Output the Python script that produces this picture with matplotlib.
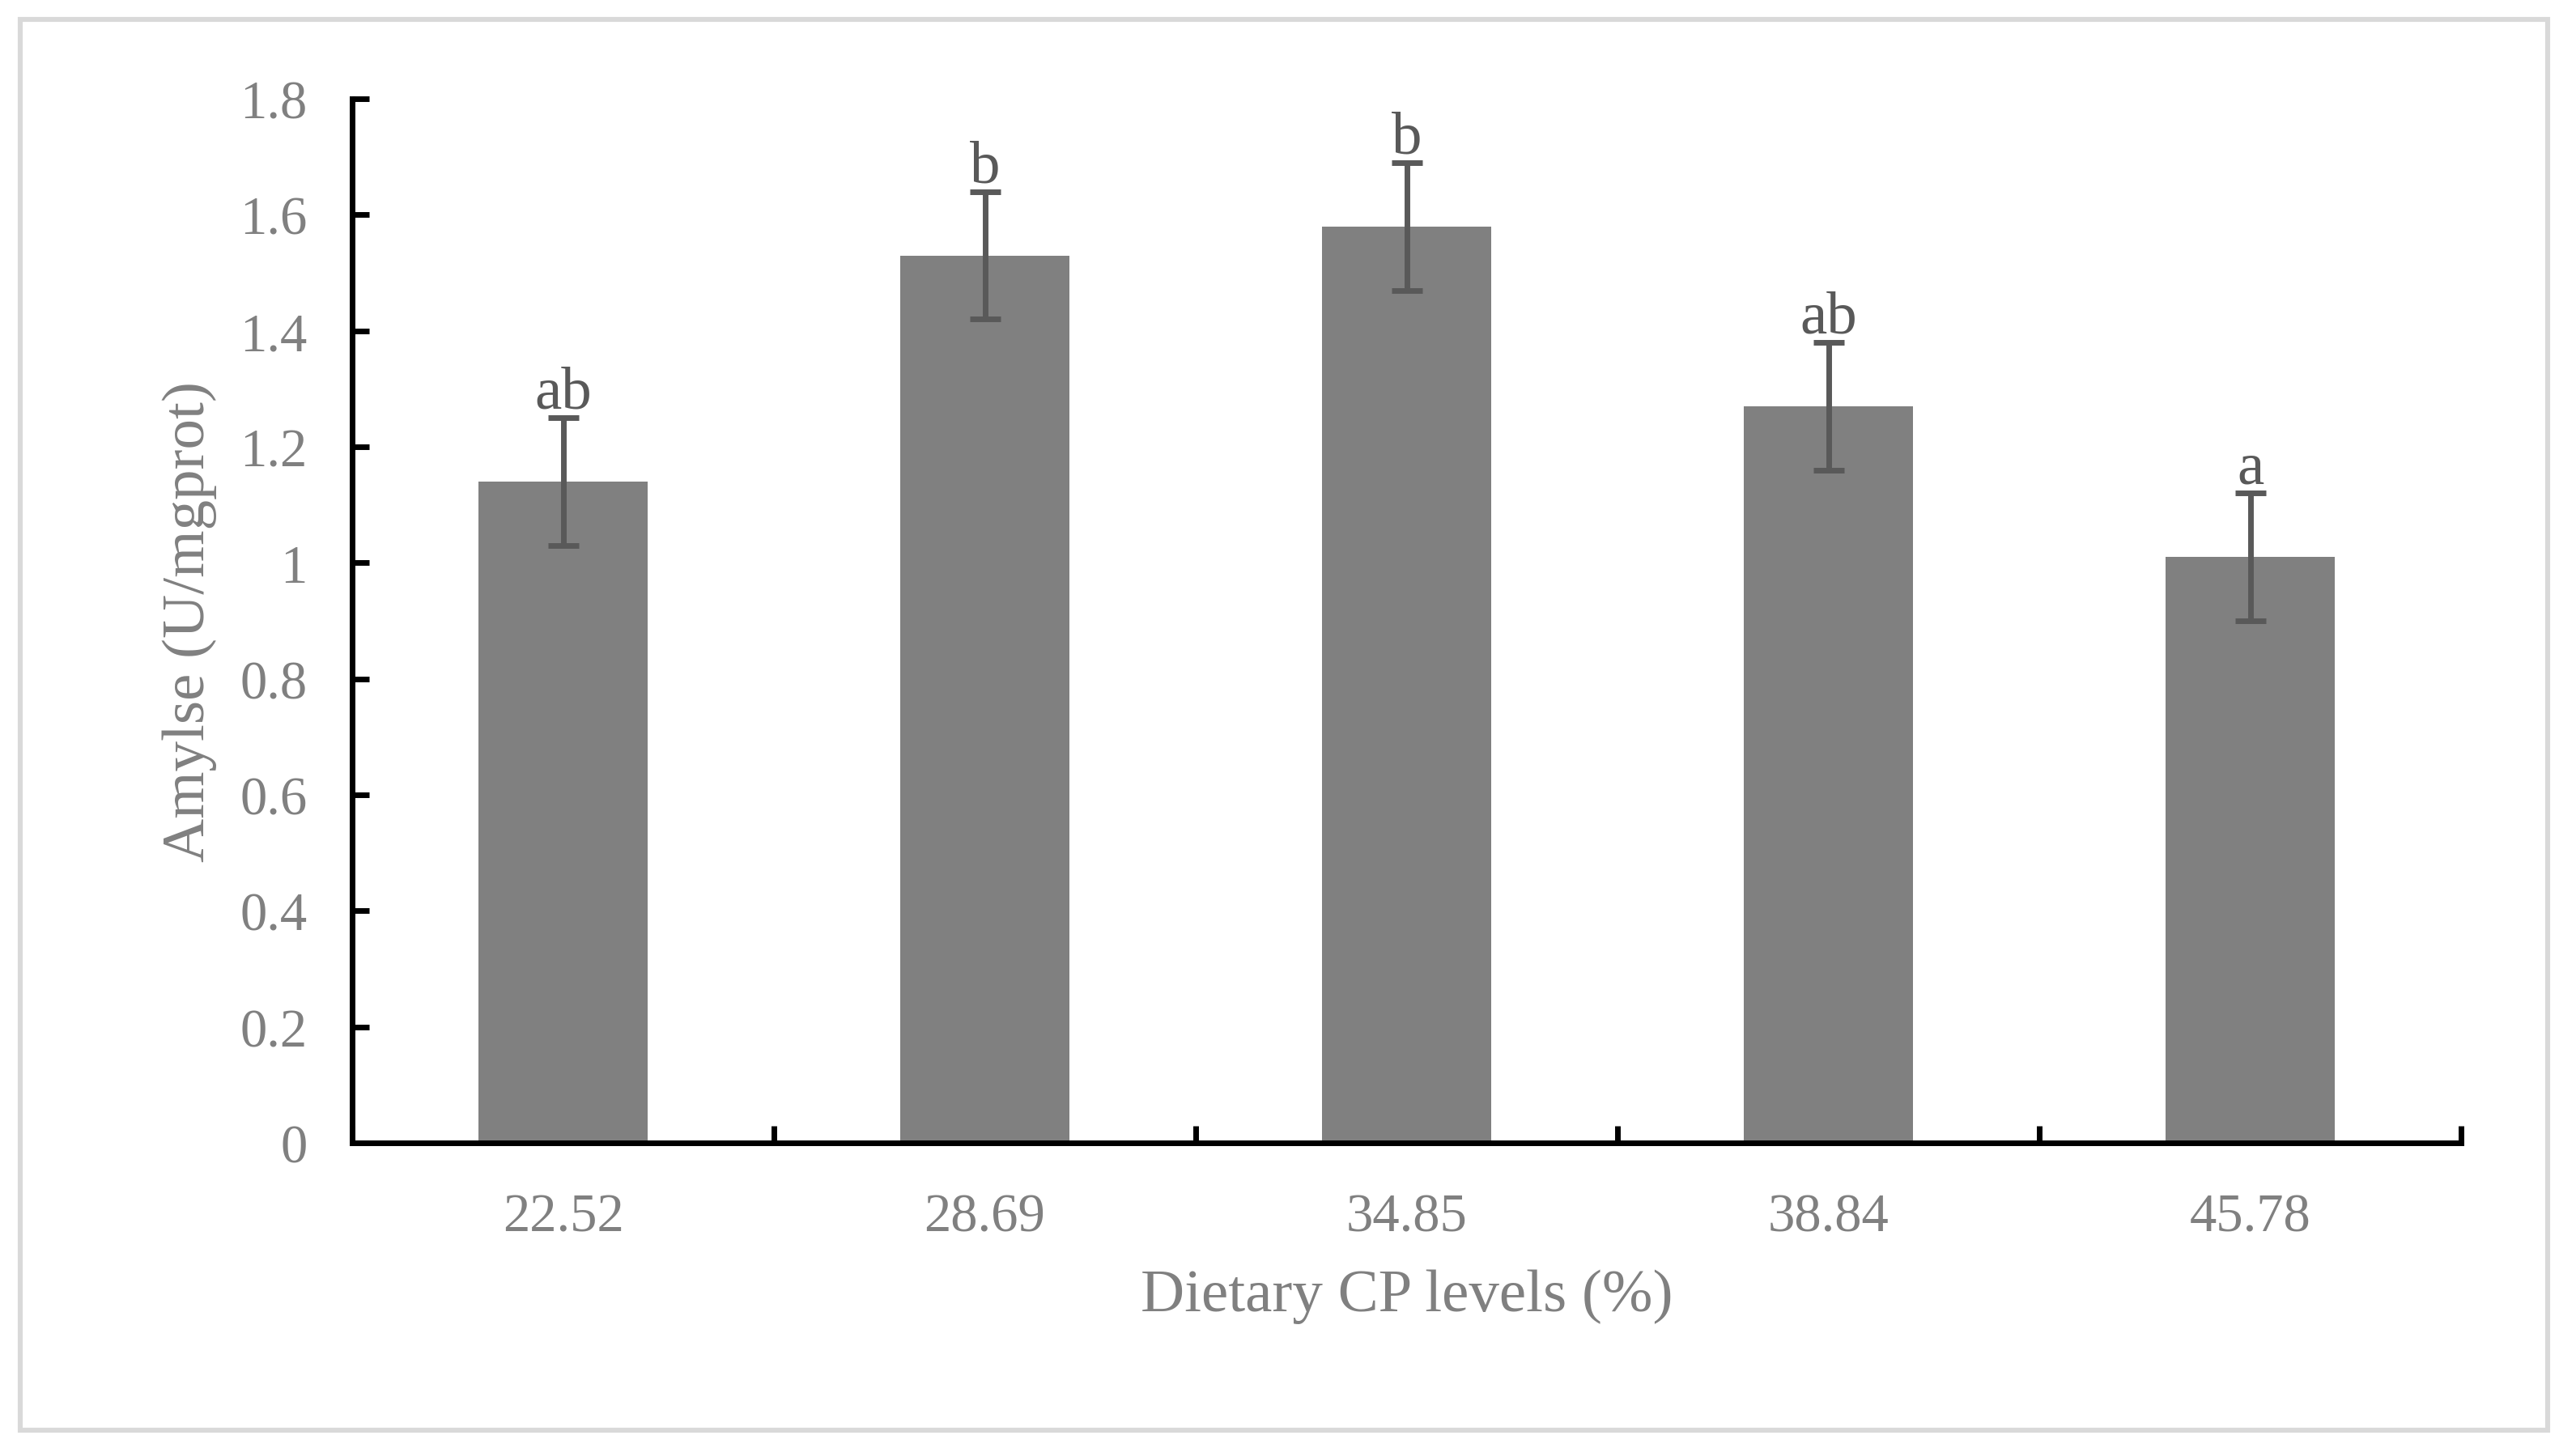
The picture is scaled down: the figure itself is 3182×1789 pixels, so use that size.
import matplotlib
matplotlib.use("Agg")
import matplotlib.pyplot as plt
from matplotlib.patches import Rectangle
import numpy as np

categories = ["22.52", "28.69", "34.85", "38.84", "45.78"]
values = [1.14, 1.53, 1.58, 1.27, 1.01]
errors = [0.11, 0.11, 0.11, 0.11, 0.11]
letters = ["ab", "b", "b", "ab", "a"]
yticks = [0, 0.2, 0.4, 0.6, 0.8, 1.0, 1.2, 1.4, 1.6, 1.8]

plt.rcParams['font.family'] = ['Liberation Serif', 'DejaVu Serif']

W, H, DPI = 3182, 1790, 200
fig = plt.figure(figsize=(W / DPI, H / DPI), dpi=DPI)
fig.patch.set_facecolor("white")

# outer light frame
fig.patches.append(Rectangle((25 / W, 1 - 1768 / H), (3147 - 25) / W, (1768 - 25) / H,
                             transform=fig.transFigure, fill=False,
                             edgecolor="#d9d9d9", linewidth=2.2))

ax = fig.add_axes([435 / W, 1 - 1413 / H, (3040 - 435) / W, (1413 - 123) / H])
x = np.arange(len(categories))
ax.bar(x, values, width=0.40, color="#808080", zorder=2)
ax.errorbar(x, values, yerr=errors, fmt="none", ecolor="#595959",
            elinewidth=2.5, capsize=6.8, capthick=2.5, zorder=3)
for xi, v, e, t in zip(x, values, errors, letters):
    ax.annotate(t, (xi, v + e), xytext=(0, 4.5), textcoords="offset points",
                ha="center", va="baseline", fontsize=27, color="#595959", zorder=4)

ax.set_xlim(-0.5, len(categories) - 0.5)
ax.set_ylim(0, 1.8)
ax.set_yticks(yticks)
ax.set_yticklabels([f"{v:g}" for v in yticks])
ax.set_xticks(x)
ax.set_xticklabels(categories)
ax.set_xticks(np.arange(len(categories) + 1) - 0.5, minor=True)

for s in ["top", "right"]:
    ax.spines[s].set_visible(False)
for s in ["left", "bottom"]:
    ax.spines[s].set_linewidth(2.5)
    ax.spines[s].set_color("black")

ax.tick_params(axis="y", which="major", direction="in", length=7.5, width=2.5,
               color="black", labelsize=24, labelcolor="#808080", pad=20)
ax.tick_params(axis="x", which="major", length=0, labelsize=24,
               labelcolor="#808080", pad=22)
ax.tick_params(axis="x", which="minor", direction="in", length=7.5, width=2.5,
               color="black")

ax.set_xlabel("Dietary CP levels (%)", fontsize=27, color="#808080", labelpad=12)
ax.set_ylabel("Amylse (U/mgprot)", fontsize=27, color="#808080", labelpad=10)

fig.savefig("out.png", dpi=DPI)
